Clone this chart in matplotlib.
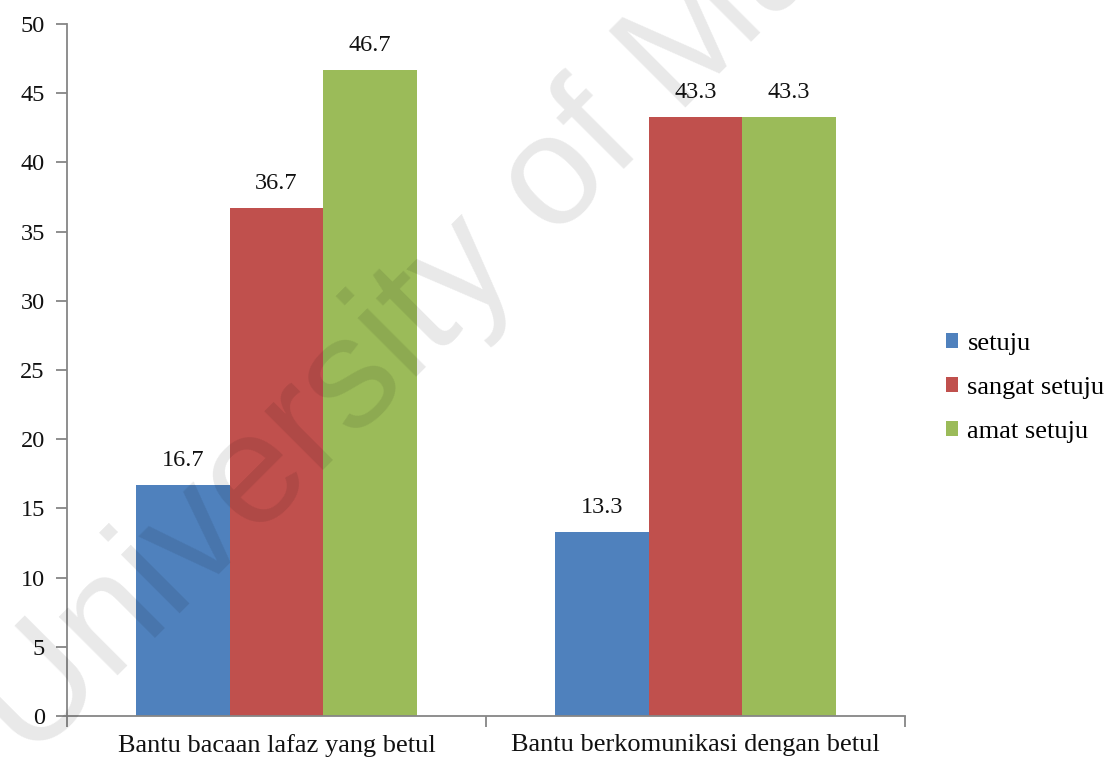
import matplotlib
matplotlib.use("Agg")
import matplotlib.pyplot as plt
import numpy as np

categories = ["Bantu bacaan lafaz yang betul", "Bantu berkomunikasi dengan betul"]
series_names = ["setuju", "sangat setuju", "amat setuju"]
setuju = [16.7, 13.3]
sangat_setuju = [36.7, 43.3]
amat_setuju = [46.7, 43.3]
y_ticks = [0, 5, 10, 15, 20, 25, 30, 35, 40, 45, 50]

series = [setuju, sangat_setuju, amat_setuju]
colors = ["#4F81BD", "#C0504D", "#9BBB59"]

plt.rcParams["font.family"] = ["Liberation Serif", "DejaVu Serif"]

W, H = 1114, 762
fig = plt.figure(figsize=(W / 100, H / 100), dpi=100)
ax = fig.add_axes([67 / W, 46 / H, 838 / W, 692 / H])

num_fs = 17.5
txt_fs = 19

x = np.arange(len(categories))
bar_w = 0.223
for i, (vals, name, c) in enumerate(zip(series, series_names, colors)):
    pos = x + (i - 1) * bar_w
    ax.bar(pos, vals, width=bar_w, color=c, label=name, zorder=2)
    for px, v in zip(pos, vals):
        ax.annotate(f"{v:.1f}", (px, v), xytext=(0, 13.5), textcoords="offset points",
                    ha="center", va="baseline", fontsize=num_fs, color="#111111")

ax.set_xlim(-0.5, 1.5)
ax.set_ylim(0, 50)
ax.set_yticks(y_ticks)
ax.set_xticks(x)
ax.set_xticklabels(categories)
ax.set_xticks([-0.5, 0.5, 1.5], minor=True)

gray = "#868686"
for s in ["top", "right"]:
    ax.spines[s].set_visible(False)
for s in ["left", "bottom"]:
    ax.spines[s].set_color(gray)
    ax.spines[s].set_linewidth(1.3)
ax.tick_params(axis="y", direction="out", length=8, width=1.3, color=gray,
               labelsize=num_fs, pad=8, labelcolor="#111111")
ax.tick_params(axis="x", which="major", length=0, labelsize=txt_fs, pad=13, labelcolor="#111111")
ax.tick_params(axis="x", which="minor", direction="out", length=8, width=1.3, color=gray)

handles, labels = ax.get_legend_handles_labels()
fig.legend(handles, labels, loc="center left", bbox_to_anchor=(922 / W, (H - 388) / H),
           frameon=False, fontsize=txt_fs, handlelength=0.47, handleheight=0.47,
           handletextpad=0.35, labelspacing=0.83)

# faint diagonal watermark across the page
fig.text(30 / W, -2 / H, "University of Malaya", rotation=45,
         rotation_mode="anchor", ha="left", va="baseline", fontsize=114,
         family="Liberation Sans", color="black", alpha=0.09, zorder=10)

fig.savefig("out.png", dpi=100)
